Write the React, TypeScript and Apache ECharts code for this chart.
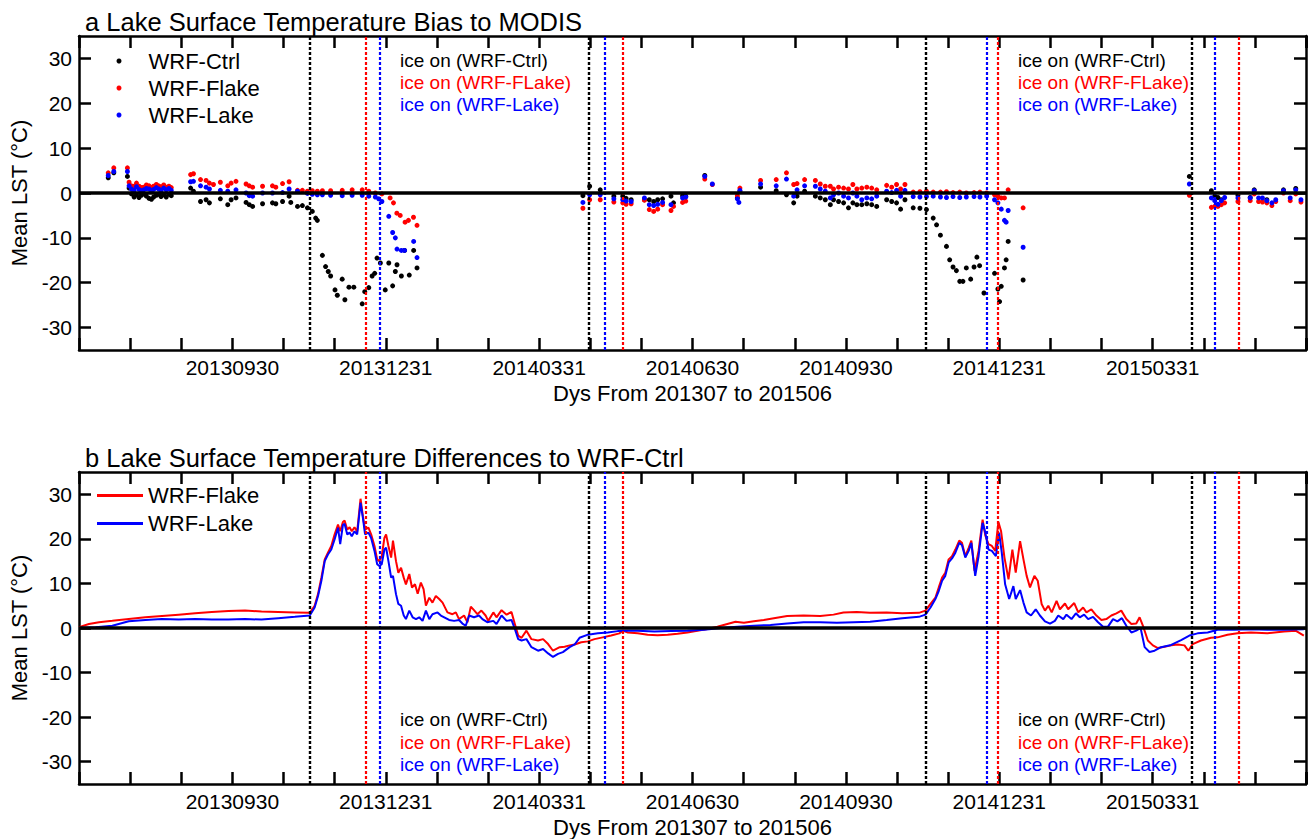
import React, { useEffect, useRef } from "react";
import * as echarts from "echarts";

// ---------- data (day index from 2013-07-01, value in °C) ----------
const xTickLabels = ["20130930", "20131231", "20140331", "20140630", "20140930", "20141231", "20150331"];
const yTickValues = [-30, -20, -10, 0, 10, 20, 30];

const iceCtrl = [137.5, 303.4, 503.9, 661.8];
const iceFlake = [170.5, 323.5, 546.5, 689.7];
const iceLake = [178.9, 312.6, 540.3, 675.9];
const iceLabels = ["ice on (WRF-Ctrl)", "ice on (WRF-FLake)", "ice on (WRF-Lake)"];

const ctrlBias = [
  [17.4, 3.4], [20.7, 4.5], [28.8, 3.7], [29.8, 1.1], [31.2, -0.2], [32.8, -0.9], [34.2, -0.4], [35.7, -1.0],
  [37.1, -0.5], [38.5, -0.2], [40.1, -0.7], [41.7, -1.2], [43.1, -1.4], [44.4, -0.9], [46.0, -0.5], [47.4, -0.3],
  [48.8, -0.8], [50.4, -0.4], [51.9, -0.9], [53.5, -0.3], [54.9, -0.6], [66.4, 1.1], [68.1, 0.4], [72.3, -1.9],
  [75.6, -1.5], [77.6, -2.2], [84.1, -1.3], [88.5, -2.6], [90.5, -1.5], [93.4, -1.1], [99.4, -2.1], [101.3, -2.6],
  [103.3, -3.0], [109.2, -2.4], [115.1, -2.2], [117.1, -2.4], [121.1, -1.9], [125.0, -0.7], [126.0, -2.1],
  [130.0, -3.0], [132.9, -2.8], [135.9, -3.3], [138.8, -4.1], [140.8, -5.6], [141.8, -6.1], [144.8, -13.9],
  [146.7, -16.4], [148.3, -17.5], [149.7, -18.5], [152.3, -21.6], [153.7, -22.8], [156.6, -19.2], [158.2, -23.8],
  [160.6, -21.0], [163.5, -21.0], [168.5, -24.7], [170.0, -22.0], [172.4, -21.1], [174.4, -18.5], [175.9, -17.9],
  [177.3, -14.5], [179.3, -15.6], [182.2, -21.6], [184.3, -15.6], [186.6, -20.7], [188.2, -17.5], [189.2, -16.0],
  [191.8, -18.5], [193.7, -12.8], [196.5, -18.3], [199.1, -12.8], [201.1, -16.7],
  [299.8, -0.6], [303.8, 1.5], [310.1, 0.7], [318.2, -0.7], [323.5, -0.7], [325.5, -1.2], [328.5, -1.5],
  [336.4, -1.5], [339.3, -1.5], [341.9, -1.9], [344.3, -1.5], [347.2, -1.3], [352.2, -0.7], [353.7, -2.2],
  [359.1, -0.6], [361.0, -0.7], [372.3, 3.9], [391.7, -1.1], [393.2, 0.4], [405.5, 1.3], [414.8, 0.5],
  [420.9, -0.4], [425.2, -2.2], [427.2, -0.7], [431.7, 0.4], [438.1, -0.7], [441.0, -1.1], [444.0, -1.5],
  [447.0, -2.6], [448.9, -1.5], [451.9, -1.9], [454.9, -2.2], [457.8, -3.3], [460.4, -2.2], [462.8, -2.6],
  [465.7, -2.6], [468.7, -2.4], [471.6, -2.6], [474.6, -3.0], [480.5, -1.5], [483.5, -1.9], [486.4, -2.2],
  [488.8, -3.6], [491.4, -1.5], [496.3, -3.3], [500.3, -3.4], [504.2, -3.7], [508.2, -5.6], [510.2, -7.1],
  [512.5, -9.4], [516.1, -11.9], [518.0, -14.9], [520.0, -16.5], [522.0, -17.3], [524.0, -19.7], [525.9, -19.7],
  [527.9, -16.7], [530.5, -19.2], [532.5, -16.5], [534.2, -14.3], [535.8, -16.2], [538.4, -22.3], [544.7, -17.9],
  [546.7, -21.4], [547.7, -24.2], [548.7, -20.8], [550.6, -16.7], [551.6, -14.9], [552.8, -10.8], [561.7, -19.4],
  [660.6, 3.7], [673.7, 0.5], [675.7, -0.7], [677.6, -1.0], [679.6, -1.5], [689.5, -0.5], [696.8, -1.0],
  [699.2, 0.7], [706.7, -1.5], [716.6, 0.7], [723.9, 1.0],
];

const flakeBias = [
  [17.4, 4.5], [20.7, 5.6], [28.8, 5.6], [29.8, 2.4], [31.2, 1.6], [32.8, 1.5], [34.2, 2.2], [35.7, 1.5],
  [37.1, 1.2], [38.5, 1.3], [40.1, 1.8], [41.7, 1.6], [43.1, 1.2], [44.4, 1.5], [46.0, 1.9], [47.4, 1.6],
  [48.8, 1.4], [50.4, 1.8], [51.9, 1.3], [53.5, 1.5], [54.9, 1.2], [66.4, 4.1], [68.1, 4.3], [72.3, 3.0],
  [75.6, 2.8], [77.6, 2.2], [80.0, 1.9], [84.1, 2.4], [88.5, 1.6], [90.5, 2.2], [93.4, 2.6], [99.4, 2.0],
  [101.3, 1.6], [103.3, 1.3], [109.2, 1.5], [115.1, 1.6], [117.1, 1.3], [121.1, 2.1], [125.0, 2.5], [130.0, 0.6],
  [132.9, 0.6], [135.9, 0.4], [138.8, 0.5], [141.8, 0.4], [144.8, 0.5], [149.7, 0.5], [156.6, 0.6], [162.5, 0.7],
  [168.5, 0.7], [172.4, 0.4], [176.3, 0.0], [180.2, -0.2], [185.1, -1.1], [187.1, -2.2], [189.1, -4.5],
  [191.1, -5.0], [194.0, -6.5], [196.0, -6.1], [199.0, -5.4], [201.1, -7.2],
  [299.8, -3.4], [303.8, -1.5], [310.1, -1.5], [318.2, -2.0], [323.5, -2.2], [325.5, -2.5], [328.5, -2.4],
  [336.4, -1.6], [339.3, -3.7], [341.9, -4.1], [344.3, -3.6], [347.2, -2.6], [352.2, -3.9], [353.7, -3.0],
  [359.1, -2.1], [361.0, -1.8], [372.3, 3.1], [376.8, 1.9], [391.7, -0.6], [393.2, 1.1], [405.5, 2.8],
  [414.8, 3.0], [420.9, 4.5], [425.2, 1.9], [427.2, 2.1], [431.7, 3.0], [438.1, 2.8], [441.0, 2.0], [444.0, 1.5],
  [447.0, 1.5], [448.9, 0.9], [451.9, 1.3], [454.9, 1.1], [457.8, 0.9], [460.4, 1.9], [462.8, 0.9], [465.7, 1.1],
  [468.7, 1.3], [471.6, 1.1], [474.6, 0.7], [480.5, 1.7], [483.5, 1.3], [486.4, 1.9], [488.8, 0.9], [491.4, 1.9],
  [496.3, 0.2], [500.3, 0.3], [504.2, 0.4], [508.2, 0.2], [512.5, 0.2], [516.1, 0.3], [520.0, 0.1], [524.0, 0.2],
  [527.9, 0.0], [532.5, 0.1], [536.0, 0.2], [540.0, 0.0], [544.7, -0.4], [546.7, -0.7], [548.7, -1.1],
  [550.6, -1.1], [552.8, 0.7], [561.7, -3.3],
  [660.6, -0.5], [673.7, -3.2], [675.7, -3.0], [677.6, -3.0], [679.6, -2.6], [681.6, -2.2], [689.5, -1.9],
  [696.8, -1.7], [699.2, -0.2], [701.8, -1.9], [704.1, -2.0], [706.7, -2.2], [709.7, -2.8], [712.0, -1.9],
  [716.6, 0.0], [720.6, -1.7], [723.9, -0.2], [727.0, -2.0],
];

const lakeBias = [
  [17.4, 3.9], [20.7, 4.8], [28.8, 4.8], [29.8, 1.6], [31.2, 0.9], [32.8, 0.6], [34.2, 1.4], [35.7, 0.8],
  [37.1, 0.5], [38.5, 0.7], [40.1, 1.0], [41.7, 0.9], [43.1, 0.5], [44.4, 0.8], [46.0, 1.2], [47.4, 0.9],
  [48.8, 0.6], [50.4, 1.1], [51.9, 0.7], [53.5, 1.0], [54.9, 0.6], [66.4, 2.5], [68.1, 2.6], [72.3, 1.6],
  [75.6, 1.3], [77.6, 0.9], [84.1, 0.6], [88.5, 0.4], [93.4, 0.7], [99.4, 0.0], [101.3, -0.6], [103.3, -0.7],
  [109.2, 0.0], [115.1, 0.0], [121.1, 0.1], [125.0, 0.9], [130.0, 0.4], [135.9, -0.1], [138.8, -0.3],
  [141.8, -0.4], [144.8, -0.4], [149.7, -0.5], [156.6, -0.6], [162.5, -0.5], [168.5, -0.5], [172.4, -0.7],
  [176.3, -0.9], [178.3, -1.3], [180.2, -1.9], [184.3, -5.2], [186.6, -8.8], [188.2, -10.0], [189.2, -12.5],
  [191.8, -12.8], [193.7, -12.8], [199.1, -10.8], [201.1, -14.4],
  [299.8, -2.1], [303.8, -0.4], [310.1, -0.4], [318.2, -1.3], [323.5, -1.5], [325.5, -1.8], [328.5, -1.9],
  [336.4, -1.1], [339.3, -2.6], [341.9, -2.8], [344.3, -2.5], [347.2, -2.1], [352.2, -2.6], [359.1, -1.1],
  [361.0, -0.9], [372.3, 3.7], [376.8, 2.0], [391.7, -1.3], [392.6, -2.1], [393.2, 0.6], [405.5, 2.0],
  [414.8, 1.6], [420.9, 3.1], [425.2, -0.7], [427.2, 0.7], [431.7, 1.6], [438.1, 1.5], [441.0, 0.9], [444.0, 0.4],
  [447.0, -1.1], [448.9, -0.4], [451.9, 0.0], [454.9, -0.7], [457.8, -1.1], [460.4, 0.0], [462.8, -0.7],
  [465.7, -1.5], [468.7, -1.1], [471.6, -1.3], [474.6, -0.7], [480.5, 0.4], [483.5, 0.1], [486.4, 0.6],
  [488.8, -0.7], [491.4, 0.6], [496.3, -0.8], [500.3, -0.9], [504.2, -0.8], [508.2, -0.7], [512.5, -0.9],
  [516.1, -1.0], [520.0, -0.8], [524.0, -1.0], [527.9, -0.9], [532.5, -0.8], [536.0, -0.9], [540.0, -0.7],
  [544.7, -1.5], [546.7, -2.2], [548.7, -3.6], [550.6, -6.1], [551.6, -6.5], [552.8, -3.9], [561.7, -12.1],
  [660.6, 2.0], [673.7, -1.1], [675.7, -1.7], [677.6, -2.5], [679.6, -1.7], [681.6, -1.0], [689.5, -1.1],
  [696.8, -1.1], [699.2, 0.5], [701.8, -1.1], [704.1, -1.1], [706.7, -1.7], [709.7, -2.2], [712.0, -1.5],
  [716.6, 0.5], [720.6, -1.1], [723.9, 0.7], [727.0, -1.5],
];

const flakeDiff = [
  [0, 0.2], [5.9, 0.9], [11.9, 1.3], [19.8, 1.6], [29.6, 2.0], [39.5, 2.4], [49.4, 2.7], [59.3, 3.0], [69.1, 3.3],
  [79, 3.6], [88.9, 3.8], [98.8, 3.9], [108.6, 3.7], [118.5, 3.6], [128.4, 3.5], [137.3, 3.4], [140.2, 5.0],
  [142.2, 7.6], [144.2, 11.3], [146.2, 15.4], [148.1, 16.9], [150.1, 18.4], [152.1, 21.0], [154.1, 23.2],
  [155.4, 21.7], [157, 23.8], [158, 24.1], [159.6, 22.1], [161, 22.6], [162.3, 21.7], [163.9, 22.6], [165.5, 21.6],
  [167.5, 29.0], [168.9, 25.1], [170.2, 22.1], [172.2, 22.5], [173.8, 21.0], [175.8, 18.4], [177.4, 15.4],
  [178.7, 15.0], [180.1, 16.1], [181.7, 20.2], [182.7, 21.0], [184.1, 18.4], [185.7, 15.8], [186.8, 19.6],
  [188.6, 15.0], [190, 12.4], [191.6, 13.5], [193.2, 11.3], [194.5, 9.8], [196.5, 12.1], [198.1, 9.1], [199.9, 9.8],
  [201.5, 7.7], [203.4, 10.2], [205, 8.7], [206.4, 5.0], [208.4, 6.8], [210.3, 5.7], [212.3, 7.2], [214.3, 6.5],
  [216.3, 5.7], [219.2, 3.5], [222.2, 3.1], [224.2, 3.5], [226.1, 2.0], [229.1, 2.8], [231.1, 1.3], [233.1, 4.8],
  [235, 4.0], [237, 3.1], [239.4, 3.9], [241.9, 2.8], [243.5, 1.6], [246.5, 3.5], [248.4, 2.4], [251.4, 4.0],
  [254.4, 3.0], [257.3, 3.6], [259.3, 0.9], [261.3, -1.7], [263.3, -2.2], [266.2, -0.6], [269.2, -2.5],
  [273.1, -2.8], [276.1, -2.5], [279.1, -3.6], [282, -5.1], [284, -4.7], [286, -4.3], [288.9, -4.2], [291.9, -3.9],
  [294.9, -3.7], [298.8, -3.2], [302.8, -3.0], [306.7, -2.5], [311.6, -2.1], [316.6, -1.7], [321.5, -1.2],
  [323.5, -0.6], [326.5, -1.0], [332.4, -1.2], [338.3, -1.5], [344.2, -1.6], [350.2, -1.5], [356.1, -1.3],
  [362, -1.0], [367.9, -0.6], [373.9, -0.2], [379.8, 0.3], [385.7, 0.9], [390.6, 1.4], [395.6, 1.2], [401.5, 1.5],
  [407.4, 1.8], [413.4, 2.2], [421.3, 2.7], [431.1, 2.8], [441, 2.7], [448.9, 3.0], [454.8, 3.5], [462.7, 3.6],
  [470.6, 3.4], [480.5, 3.5], [489.8, 3.3], [499.7, 3.4], [503.6, 3.9], [506.6, 5.4], [509.5, 6.8], [511.5, 9.1],
  [513.5, 11.3], [515.4, 12.4], [517.4, 15.4], [519.4, 16.1], [521.4, 17.6], [523.7, 19.6], [525.3, 19.1],
  [527.3, 16.1], [529.3, 18.0], [530.9, 19.6], [532.8, 12.8], [535.2, 17.3], [537.6, 24.3], [539.2, 20.8],
  [541.1, 18.8], [543.1, 18.4], [545.1, 17.3], [547, 23.8], [548.6, 21.7], [550.6, 15.8], [553, 10.9],
  [555.3, 17.6], [557.3, 12.4], [559.9, 19.5], [561.9, 15.4], [563.8, 11.7], [565.8, 9.1], [568.4, 11.7],
  [570.4, 10.6], [572.7, 5.4], [574.7, 3.9], [576.7, 5.0], [578.7, 3.5], [581.6, 6.1], [583.6, 4.2], [586.6, 5.5],
  [588.5, 4.2], [592.1, 5.6], [594.5, 3.5], [597.4, 4.6], [599.4, 3.5], [602.3, 4.2], [605.3, 2.8], [608.3, 1.8],
  [611.2, 2.0], [614.2, 2.8], [617.2, 3.3], [620.1, 3.9], [623.1, 2.0], [626.1, 0.9], [629, 1.0], [631, 2.4],
  [633, 0.5], [635.9, -2.8], [638.9, -3.9], [641.9, -4.5], [645.8, -4.2], [649.8, -3.9], [653.7, -3.7],
  [657.7, -3.9], [660, -5.1], [662.6, -3.6], [667.5, -2.8], [673.5, -2.2], [677.4, -2.1], [683.3, -1.5],
  [689.2, -1.2], [697.2, -1.0], [707, -1.2], [716.9, -0.8], [723.8, -0.6], [728.7, -1.7],
];

const lakeDiff = [
  [0, 0], [9.9, 0.15], [19.8, 0.5], [29.6, 1.5], [39.5, 1.8], [49.4, 2.0], [59.3, 1.9], [69.1, 2.0], [79, 1.9],
  [88.9, 1.9], [98.8, 2.0], [108.6, 1.9], [118.5, 2.2], [128.4, 2.5], [137.3, 2.8], [140.2, 4.6], [142.2, 7.2],
  [144.2, 10.6], [146.2, 15.0], [148.1, 16.5], [150.1, 17.6], [152.1, 19.9], [154.1, 22.5], [155.4, 18.8],
  [157, 23.1], [158, 23.4], [159.6, 21.0], [161, 21.4], [162.3, 20.6], [163.9, 21.7], [165.5, 21.0], [167.5, 28.1],
  [168.9, 24.7], [170.2, 21.0], [172.2, 21.4], [173.8, 20.2], [175.8, 17.3], [177.4, 14.3], [178.7, 13.9],
  [180.1, 14.3], [181.7, 17.6], [182.7, 18.0], [184.1, 15.0], [185.7, 11.3], [186.8, 11.7], [188.6, 7.6],
  [190, 5.4], [191.6, 5.0], [193.2, 2.8], [194.5, 2.0], [196.5, 3.9], [198.5, 2.4], [200.5, 2.0], [202.4, 2.4],
  [204.4, 1.6], [206.4, 3.9], [208.4, 2.0], [210.3, 3.1], [213.3, 3.5], [215.3, 2.8], [217.3, 2.4], [220.2, 1.8],
  [223.2, 1.6], [226.1, 1.8], [228.1, 1.0], [230.1, 0.5], [232.1, 2.8], [235, 2.4], [238, 2.8], [240, 2.0],
  [242.9, 1.3], [246.5, 1.6], [248.4, 0.9], [251.4, 2.8], [254.4, 1.6], [257.3, 1.8], [259.3, -0.2], [261.3, -2.5],
  [263.3, -2.8], [266.2, -2.5], [269.2, -4.3], [273.1, -5.1], [276.1, -4.7], [279.1, -5.7], [282, -6.5],
  [285, -5.8], [287.9, -5.4], [291.9, -4.3], [294.9, -3.7], [297.8, -2.2], [302.8, -1.5], [308.7, -1.2],
  [314.6, -1.0], [320.5, -0.7], [326.5, -0.6], [332.4, -0.6], [342.3, -0.8], [352.1, -0.7], [362, -0.6],
  [371.9, -0.4], [381.8, 0], [391.6, 0.3], [401.5, 0.5], [411.4, 0.7], [421.3, 1.0], [431.1, 1.3], [441, 1.3],
  [450.9, 1.2], [460.8, 1.3], [470.6, 1.4], [480.5, 1.8], [489.8, 2.2], [499.7, 2.5], [503.6, 3.0], [506.6, 4.6],
  [509.5, 6.5], [511.5, 8.3], [513.5, 10.6], [515.4, 11.7], [517.4, 14.7], [519.4, 15.6], [521.4, 16.9],
  [523.7, 19.1], [525.3, 18.6], [527.3, 15.8], [529.3, 17.3], [530.9, 19.1], [533.2, 11.7], [535.2, 16.1],
  [537.6, 23.6], [539.2, 21.4], [541.1, 17.6], [543.1, 17.3], [545.5, 16.1], [547.4, 21.4], [549, 16.9],
  [551, 9.8], [553.4, 6.5], [555.9, 9.4], [557.3, 6.5], [559.9, 8.5], [561.9, 5.7], [563.8, 3.5], [566.4, 2.8],
  [569.2, 4.2], [571.7, 2.8], [574.7, 1.5], [577.7, 1.0], [580.6, 1.6], [582.6, 2.8], [585.6, 2.0], [587.5, 3.0],
  [590.5, 2.0], [593.1, 3.3], [595.4, 2.4], [598, 3.0], [600.4, 2.0], [603.3, 2.5], [606.3, 1.3], [609.3, 0.3],
  [612.2, 0.3], [615.2, 2.0], [617.8, 1.5], [620.5, 2.2], [623.1, 0.5], [626.1, -1.0], [629, -0.6], [631.6, 0],
  [634, -4.3], [636.9, -5.4], [639.9, -5.1], [643.8, -4.3], [649.8, -3.8], [655.7, -2.7], [660.6, -1.7],
  [665.5, -1.2], [671.5, -1.0], [677.4, -0.4], [687.3, -0.4], [697.2, -0.3], [707, -0.4], [716.9, -0.4],
  [728.7, -0.3],
];

// ---------- chart ----------
const DAYS = 730;
const STEP = DAYS / 24;
const FONT = "'Liberation Sans', Arial, Helvetica, sans-serif";
const RED = "#ff0000";
const BLUE = "#0000ff";
const BLACK = "#000000";

const diffNames: Record<string, string> = { "Flake − Ctrl": "WRF-Flake", "Lake − Ctrl": "WRF-Lake" };

function xLabel(v: number) {
  const k = Math.round(v / STEP);
  if (Math.abs(k * STEP - v) > 0.5) return "";
  if (k > 0 && k < 24 && k % 3 === 0) return xTickLabels[k / 3 - 1];
  return "";
}

function buildAxes(gridIndex: number) {
  const axisLine = { show: true, onZero: false, lineStyle: { color: BLACK, width: 2.5 } };
  const tick = { show: true, inside: true, length: 12, lineStyle: { color: BLACK, width: 2.5 } };
  const xBottom = {
    type: "value", gridIndex, position: "bottom", min: 0, max: DAYS, interval: STEP,
    axisLine, axisTick: tick, splitLine: { show: false },
    axisLabel: { formatter: xLabel, color: BLACK, fontSize: 21, fontFamily: FONT, margin: 7 },
    name: "Dys From 201307 to 201506", nameLocation: "middle", nameGap: 32,
    nameTextStyle: { color: BLACK, fontSize: 22, fontFamily: FONT },
  };
  const xTop = {
    type: "value", gridIndex, position: "top", min: 0, max: DAYS, interval: STEP,
    axisLine, axisTick: tick, splitLine: { show: false }, axisLabel: { show: false },
  };
  const yLeft = {
    type: "value", gridIndex, position: "left", min: -35, max: 35,
    axisLine, axisTick: { ...tick, customValues: yTickValues }, splitLine: { show: false },
    axisLabel: { customValues: yTickValues, color: BLACK, fontSize: 21, fontFamily: FONT, margin: 7 },
    name: "Mean LST (°C)", nameLocation: "middle", nameGap: 44, nameRotate: 90,
    nameTextStyle: { color: BLACK, fontSize: 22, fontFamily: FONT },
  };
  const yRight = {
    type: "value", gridIndex, position: "right", min: -35, max: 35,
    axisLine, axisTick: { ...tick, customValues: yTickValues }, splitLine: { show: false },
    axisLabel: { show: false },
  };
  return { x: [xBottom, xTop], y: [yLeft, yRight] };
}

function refLines() {
  return {
    silent: true,
    symbol: ["none", "none"],
    label: { show: false },
    animation: false,
    lineStyle: { type: [3, 2], width: 2 },
    data: [
      ...iceCtrl.map((d) => ({ xAxis: d, lineStyle: { color: BLACK, type: [3, 2], width: 2.4 } })),
      ...iceFlake.map((d) => ({ xAxis: d, lineStyle: { color: RED, type: [3, 2], width: 2.2 } })),
      ...iceLake.map((d) => ({ xAxis: d, lineStyle: { color: BLUE, type: [3, 2], width: 2.2 } })),
      { yAxis: 0, lineStyle: { color: BLACK, type: "solid", width: 3.5 } },
    ],
  };
}

function iceText(x: number, ys: number[]) {
  const colors = [BLACK, RED, BLUE];
  return iceLabels.map((t, i) => ({
    type: "text",
    x,
    y: ys[i],
    silent: true,
    style: { text: t, fill: colors[i], fontSize: 19, fontFamily: FONT, verticalAlign: "middle", align: "left" },
  }));
}

export default function App() {
  const ref = useRef<HTMLDivElement>(null);
  useEffect(() => {
    if (!ref.current) return;
    const chart = echarts.init(ref.current, null, { renderer: "svg" });
    const a0 = buildAxes(0);
    const a1 = buildAxes(1);
    const option: any = {
      animation: false,
      backgroundColor: "#ffffff",
      textStyle: { fontFamily: FONT, color: BLACK },
      title: [
        { text: "a Lake Surface Temperature Bias to MODIS", left: 85, top: 9, padding: 0,
          textStyle: { fontSize: 25.5, fontWeight: "normal", color: BLACK, fontFamily: FONT } },
        { text: "b Lake Surface Temperature Differences to WRF-Ctrl", left: 85, top: 445, padding: 0,
          textStyle: { fontSize: 25.5, fontWeight: "normal", color: BLACK, fontFamily: FONT } },
      ],
      grid: [
        { left: 79, top: 36, width: 1232, height: 314, containLabel: false },
        { left: 79, top: 472, width: 1232, height: 314, containLabel: false },
      ],
      xAxis: [...a0.x, ...a1.x.map((ax) => ({ ...ax }))],
      yAxis: [...a0.y, ...a1.y.map((ax) => ({ ...ax }))],
      legend: [
        {
          data: ["WRF-Ctrl", "WRF-Flake", "WRF-Lake"], orient: "vertical", left: 116.5, top: 47.5, padding: 0,
          itemWidth: 5, itemHeight: 5, itemGap: 0, icon: "circle", selectedMode: false,
          textStyle: { fontSize: 22, lineHeight: 27, color: BLACK, fontFamily: FONT, padding: [0, 0, 0, 22] },
        },
        {
          data: ["Flake − Ctrl", "Lake − Ctrl"], orient: "vertical", left: 97, top: 481.5, padding: 0,
          itemWidth: 46, itemHeight: 3, itemGap: 0, icon: "rect", selectedMode: false,
          formatter: (n: string) => diffNames[n] || n,
          textStyle: { fontSize: 22, lineHeight: 28, color: BLACK, fontFamily: FONT },
        },
      ],
      graphic: [
        ...iceText(400, [60, 82, 104]),
        ...iceText(1018, [60, 82, 104]),
        ...iceText(400, [719, 742, 764]),
        ...iceText(1018, [719, 742, 764]),
      ],
      series: [
        { name: "WRF-Ctrl", type: "scatter", xAxisIndex: 0, yAxisIndex: 0, data: ctrlBias, symbolSize: 5,
          itemStyle: { color: BLACK, opacity: 1 }, markLine: refLines() },
        { name: "WRF-Flake", type: "scatter", xAxisIndex: 0, yAxisIndex: 0, data: flakeBias, symbolSize: 5,
          itemStyle: { color: RED, opacity: 1 } },
        { name: "WRF-Lake", type: "scatter", xAxisIndex: 0, yAxisIndex: 0, data: lakeBias, symbolSize: 5,
          itemStyle: { color: BLUE, opacity: 1 } },
        { name: "Flake − Ctrl", type: "line", xAxisIndex: 2, yAxisIndex: 2, data: flakeDiff, symbol: "none",
          showSymbol: false, lineStyle: { color: RED, width: 2 }, itemStyle: { color: RED }, markLine: refLines() },
        { name: "Lake − Ctrl", type: "line", xAxisIndex: 2, yAxisIndex: 2, data: lakeDiff, symbol: "none",
          showSymbol: false, lineStyle: { color: BLUE, width: 2 }, itemStyle: { color: BLUE } },
      ],
    };
    chart.setOption(option);
    return () => chart.dispose();
  }, []);
  return <div ref={ref} style={{ position: "absolute", left: 0, top: 0, width: 1309, height: 839 }} />;
}
